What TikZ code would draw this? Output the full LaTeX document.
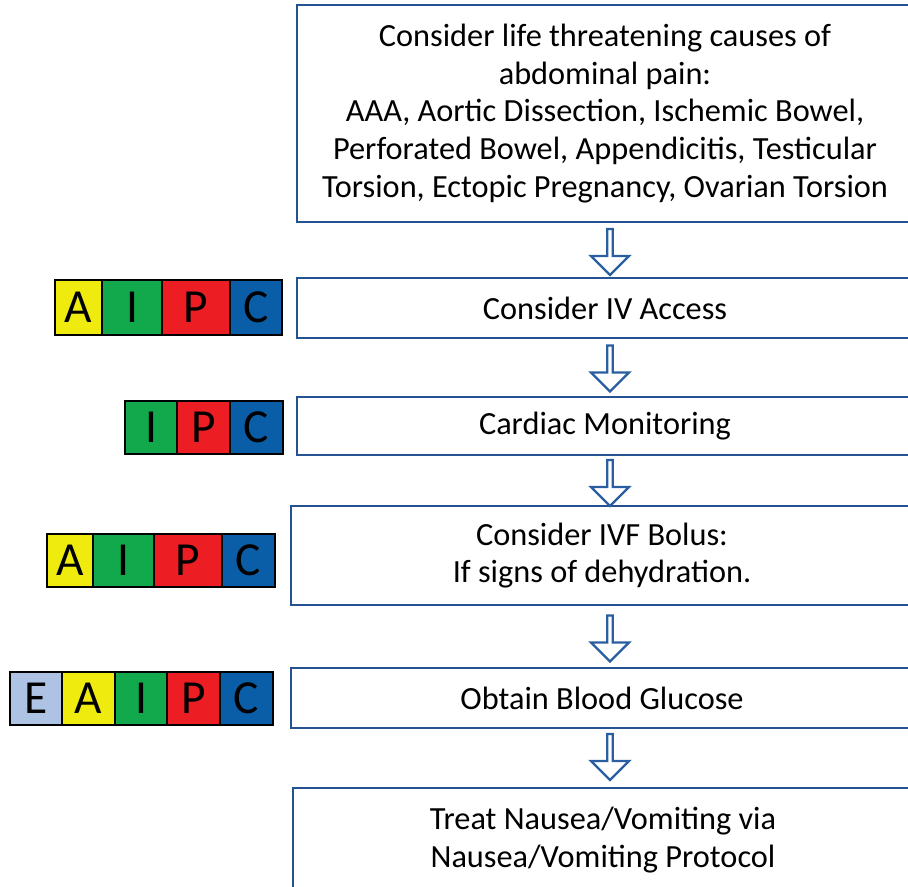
\documentclass[tikz,border=0pt]{standalone}
\usepackage{fontspec}
\setmainfont{Carlito}
\usetikzlibrary{shapes.arrows}

\definecolor{boxblue}{RGB}{37,82,145}
\definecolor{arrowblue}{RGB}{41,94,160}
\definecolor{tagyellow}{RGB}{240,235,15}
\definecolor{taggreen}{RGB}{18,168,76}
\definecolor{tagred}{RGB}{236,30,36}
\definecolor{tagblue}{RGB}{10,94,168}
\definecolor{taglight}{RGB}{174,194,228}

\begin{document}
\begin{tikzpicture}[
            x = 0.02cm, y = -0.02cm, % one unit is one pixel
            flowbox/.style = {draw=boxblue, line width=1.6pt, rectangle,
              align=center, inner sep=0pt,
              font=\fontsize{18.4}{21.5}\selectfont},
            cell/.style = {draw=black, line width=1.3pt, rectangle,
              fill=#1, inner sep=0pt, minimum height=1.06cm,
              font=\fontsize{27}{27}\selectfont},
            downarrow/.style = {single arrow, draw=arrowblue, line width=1.3pt,
              fill=white, rotate=-90, inner sep=0pt,
              minimum width=0.76cm, minimum height=0.92cm,
              single arrow head extend=0.13cm}
            ]
            \clip (0,0) rectangle (908,886);

            % flow boxes
            \node[flowbox, minimum width=12.32cm, minimum height=4.34cm] (b1) at (605,113.5)
            {Consider life threatening causes of\\ abdominal pain:\\
             AAA, Aortic Dissection, Ischemic Bowel,\\
             Perforated Bowel, Appendicitis, Testicular\\
             Torsion, Ectopic Pregnancy, Ovarian Torsion};
            \node[flowbox, minimum width=12.32cm, minimum height=1.20cm] (b2) at (605,308) {Consider IV Access};
            \node[flowbox, minimum width=12.32cm, minimum height=1.16cm] (b3) at (605,426) {Cardiac Monitoring};
            \node[flowbox, minimum width=12.44cm, minimum height=1.98cm] (b4) at (602,555.5)
            {Consider IVF Bolus:\\ If signs of dehydration.};
            \node[flowbox, minimum width=12.44cm, minimum height=1.20cm] (b5) at (602,698) {Obtain Blood Glucose};
            \node[flowbox, minimum width=12.40cm, minimum height=2.08cm] (b6) at (603,840)
            {Treat Nausea/Vomiting via\\ Nausea/Vomiting Protocol};

            % hollow arrows
            \node[downarrow] (a1) at (610,250.5) {};
            \node[downarrow] (a2) at (610,367) {};
            \node[downarrow] (a3) at (610,481.5) {};
            \node[downarrow] (a4) at (610,637) {};
            \node[downarrow] (a5) at (610,755.5) {};

            % tags next to IV Access
            \node[cell=tagyellow, minimum width=0.94cm, minimum height=1.10cm] (t1a) at (78.5,307.5) {A};
            \node[cell=taggreen, minimum width=1.20cm, minimum height=1.10cm] (t1i) at (132,307.5) {I};
            \node[cell=tagred, minimum width=1.36cm, minimum height=1.10cm] (t1p) at (196,307.5) {P};
            \node[cell=tagblue, minimum width=1.04cm, minimum height=1.10cm] (t1c) at (256,307.5) {C};

            % tags next to Cardiac Monitoring
            \node[cell=taggreen, minimum width=1.04cm] (t2i) at (151,427.5) {I};
            \node[cell=tagred, minimum width=1.06cm] (t2p) at (203.5,427.5) {P};
            \node[cell=tagblue, minimum width=1.06cm] (t2c) at (256.5,427.5) {C};

            % tags next to IVF Bolus
            \node[cell=tagyellow, minimum width=0.92cm] (t3a) at (70,560.5) {A};
            \node[cell=taggreen, minimum width=1.22cm] (t3i) at (123.5,560.5) {I};
            \node[cell=tagred, minimum width=1.36cm] (t3p) at (188,560.5) {P};
            \node[cell=tagblue, minimum width=1.06cm] (t3c) at (248.5,560.5) {C};

            % tags next to Blood Glucose
            \node[cell=taglight, minimum width=1.04cm] (t4e) at (36,698.5) {E};
            \node[cell=tagyellow, minimum width=1.06cm] (t4a) at (88.5,698.5) {A};
            \node[cell=taggreen, minimum width=1.04cm] (t4i) at (141,698.5) {I};
            \node[cell=tagred, minimum width=1.06cm] (t4p) at (193.5,698.5) {P};
            \node[cell=tagblue, minimum width=1.06cm] (t4c) at (246.5,698.5) {C};
        \end{tikzpicture}
\end{document}
